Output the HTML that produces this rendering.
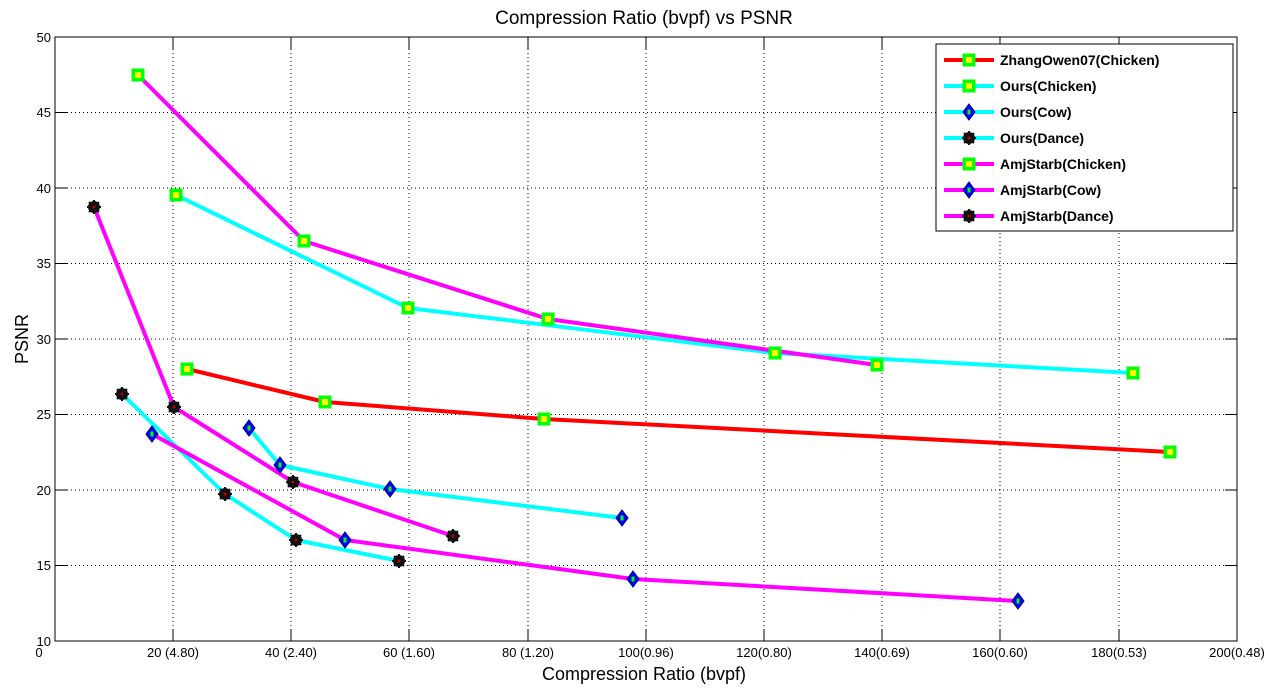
<!DOCTYPE html>
<html><head><style>body{margin:0;background:#fff}svg{display:block}text{font-family:"Liberation Sans",Arial,sans-serif}</style></head><body>
<svg width="1272" height="692" xmlns="http://www.w3.org/2000/svg">
<defs>
<g id="sq"><rect x="-6.5" y="-6.5" width="13" height="13" fill="#00ff00"/><rect x="-3" y="-3" width="6" height="6" fill="#ffff00"/></g>
<g id="dm"><polygon points="0,-8 6,0 0,8 -6,0" fill="#0000ff" stroke="#000080" stroke-width="1"/><rect x="-1.5" y="-2.5" width="3" height="5" fill="#00ff00"/></g>
<g id="st"><circle r="6" fill="#111"/><path d="M0,-7V7M-7,0H7M-5,-5L5,5M-5,5L5,-5" stroke="#111" stroke-width="2"/><circle r="1.5" fill="#c00000"/></g>
</defs>
<rect x="55" y="37" width="1182" height="604" fill="#fff" stroke="#000"/>
<g stroke="#000" stroke-dasharray="1,3" stroke-width="1">
<path d="M173,37V641M291,37V641M409,37V641M528,37V641M646,37V641M764,37V641M882,37V641M1000,37V641M1119,37V641"/>
<path d="M55,565.5H1237M55,490H1237M55,414.5H1237M55,339H1237M55,263.5H1237M55,188H1237M55,112.5H1237"/>
</g>
<g stroke="#000">
<path d="M173,641v-12M291,641v-12M409,641v-12M528,641v-12M646,641v-12M764,641v-12M882,641v-12M1000,641v-12M1119,641v-12"/>
<path d="M173,37v12M291,37v12M409,37v12M528,37v12M646,37v12M764,37v12M882,37v12M1000,37v12M1119,37v12"/>
<path d="M55,565.5h12M55,490h12M55,414.5h12M55,339h12M55,263.5h12M55,188h12M55,112.5h12"/>
<path d="M1237,565.5h-12M1237,490h-12M1237,414.5h-12M1237,339h-12M1237,263.5h-12M1237,188h-12M1237,112.5h-12"/>
</g>
<g font-size="13" text-anchor="end">
<text x="51" y="646">10</text><text x="51" y="570">15</text><text x="51" y="495">20</text><text x="51" y="419">25</text><text x="51" y="344">30</text><text x="51" y="268">35</text><text x="51" y="193">40</text><text x="51" y="117">45</text><text x="51" y="42">50</text>
</g>
<g font-size="13" text-anchor="middle">
<text x="39" y="657">0</text><text x="173" y="657">20 (4.80)</text><text x="291" y="657">40 (2.40)</text><text x="409" y="657">60 (1.60)</text><text x="528" y="657">80 (1.20)</text><text x="646" y="657">100(0.96)</text><text x="764" y="657">120(0.80)</text><text x="882" y="657">140(0.69)</text><text x="1000" y="657">160(0.60)</text><text x="1119" y="657">180(0.53)</text><text x="1237" y="657">200(0.48)</text>
</g>
<text x="644" y="680" font-size="18" text-anchor="middle">Compression Ratio (bvpf)</text>
<text x="644" y="24" font-size="19" text-anchor="middle">Compression Ratio (bvpf) vs PSNR</text>
<text transform="translate(28,339) rotate(-90)" font-size="18" text-anchor="middle">PSNR</text>
<g fill="none" stroke-width="4" stroke-linejoin="round">
<polyline stroke="#ff0000" points="187,369 325,402 544,419 1170,452"/>
<polyline stroke="#00ffff" points="176,195 408,308 775,353 1133,373"/>
<polyline stroke="#00ffff" points="249,428 280,465 390,489 622,518"/>
<polyline stroke="#00ffff" points="122,394 225,494 296,540 399,561"/>
<polyline stroke="#ff00ff" points="138,75 304,241 548,319 877,365"/>
<polyline stroke="#ff00ff" points="152,434 345,540 633,579 1018,601"/>
<polyline stroke="#ff00ff" points="94,207 174,407 293,482 453,536"/>
</g>
<g>
<use href="#sq" x="187" y="369"/><use href="#sq" x="325" y="402"/><use href="#sq" x="544" y="419"/><use href="#sq" x="1170" y="452"/>
<use href="#sq" x="176" y="195"/><use href="#sq" x="408" y="308"/><use href="#sq" x="775" y="353"/><use href="#sq" x="1133" y="373"/>
<use href="#dm" x="249" y="428"/><use href="#dm" x="280" y="465"/><use href="#dm" x="390" y="489"/><use href="#dm" x="622" y="518"/>
<use href="#st" x="122" y="394"/><use href="#st" x="225" y="494"/><use href="#st" x="296" y="540"/><use href="#st" x="399" y="561"/>
<use href="#sq" x="138" y="75"/><use href="#sq" x="304" y="241"/><use href="#sq" x="548" y="319"/><use href="#sq" x="877" y="365"/>
<use href="#dm" x="152" y="434"/><use href="#dm" x="345" y="540"/><use href="#dm" x="633" y="579"/><use href="#dm" x="1018" y="601"/>
<use href="#st" x="94" y="207"/><use href="#st" x="174" y="407"/><use href="#st" x="293" y="482"/><use href="#st" x="453" y="536"/>
</g>
<rect x="936" y="44" width="297" height="187" fill="#fff" stroke="#000"/>
<g stroke-width="4">
<path d="M944,60h50" stroke="#ff0000"/><path d="M944,86h50" stroke="#00ffff"/><path d="M944,112h50" stroke="#00ffff"/><path d="M944,138h50" stroke="#00ffff"/><path d="M944,164h50" stroke="#ff00ff"/><path d="M944,190h50" stroke="#ff00ff"/><path d="M944,216h50" stroke="#ff00ff"/>
</g>
<use href="#sq" x="969" y="60"/><use href="#sq" x="969" y="86"/><use href="#dm" x="969" y="112"/><use href="#st" x="969" y="138"/><use href="#sq" x="969" y="164"/><use href="#dm" x="969" y="190"/><use href="#st" x="969" y="216"/>
<g font-size="14" font-weight="bold">
<text x="1000" y="65">ZhangOwen07(Chicken)</text><text x="1000" y="91">Ours(Chicken)</text><text x="1000" y="117">Ours(Cow)</text><text x="1000" y="143">Ours(Dance)</text><text x="1000" y="169">AmjStarb(Chicken)</text><text x="1000" y="195">AmjStarb(Cow)</text><text x="1000" y="221">AmjStarb(Dance)</text>
</g>
</svg>
</body></html>
